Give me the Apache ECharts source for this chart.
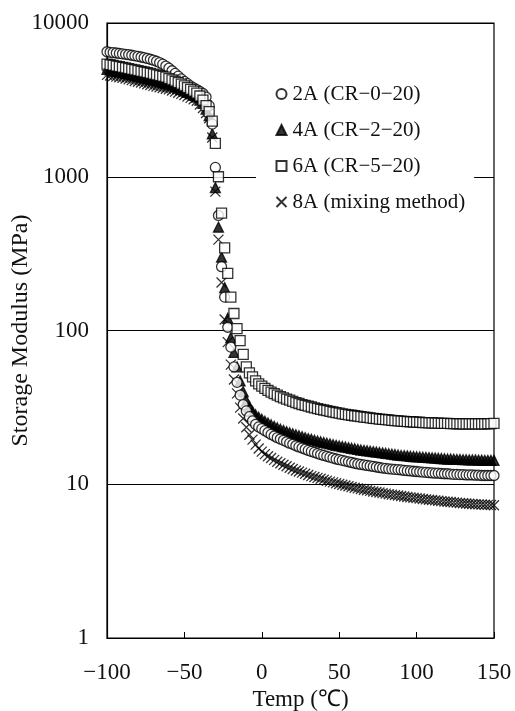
<!DOCTYPE html>
<html>
<head>
<meta charset="utf-8">
<script src="https://cdn.jsdelivr.net/npm/echarts@6/dist/echarts.min.js"></script>
<style>
  html, body { margin: 0; padding: 0; background: #fff; }
  #chart { width: 515px; height: 711px; }
</style>
</head>
<body>
<div id="chart"></div>
<script>
// region data

// temperature (°C), shared by all four samples
const temps = [
  -100, -98, -96, -94, -92, -90, -88, -86, -84, -82,
  -80, -78, -76, -74, -72, -70, -68, -66, -64, -62,
  -60, -58, -56, -54, -52, -50, -48, -46, -44, -42,
  -40, -38, -36, -34, -32, -30, -28, -26, -24, -22,
  -20, -18, -16, -14, -12, -10, -8, -6, -4, -2,
  0, 2, 4, 6, 8, 10, 12, 14, 16, 18,
  20, 22, 24, 26, 28, 30, 32, 34, 36, 38,
  40, 42, 44, 46, 48, 50, 52, 54, 56, 58,
  60, 62, 64, 66, 68, 70, 72, 74, 76, 78,
  80, 82, 84, 86, 88, 90, 92, 94, 96, 98,
  100, 102, 104, 106, 108, 110, 112, 114, 116, 118,
  120, 122, 124, 126, 128, 130, 132, 134, 136, 138,
  140, 142, 144, 146, 148, 150
]

// storage modulus (MPa)
const cr0 = [
  6500, 6450, 6420, 6380, 6340, 6300, 6260, 6220, 6170, 6120,
  6070, 6010, 5950, 5880, 5810, 5730, 5640, 5530, 5400, 5250,
  5080, 4890, 4700, 4510, 4330, 4170, 4030, 3900, 3790, 3690,
  3590, 3480, 3300, 2900, 2200, 1150, 560, 260, 165, 105,
  78, 58, 46, 38, 33, 30, 27.5, 25.8, 24.5, 23.6,
  23, 22.3, 21.7, 21.1, 20.6, 20.1, 19.7, 19.3, 18.9, 18.5,
  18.2, 17.8, 17.5, 17.2, 16.9, 16.6, 16.35, 16.1, 15.85, 15.6,
  15.4, 15.2, 15.0, 14.8, 14.6, 14.45, 14.3, 14.15, 14.0, 13.85,
  13.7, 13.55, 13.45, 13.35, 13.25, 13.15, 13.05, 12.95, 12.85, 12.75,
  12.7, 12.6, 12.55, 12.5, 12.45, 12.4, 12.3, 12.25, 12.2, 12.15,
  12.1, 12.05, 12.0, 11.95, 11.9, 11.85, 11.8, 11.8, 11.75, 11.7,
  11.7, 11.65, 11.6, 11.6, 11.55, 11.55, 11.5, 11.5, 11.5, 11.45,
  11.45, 11.4, 11.4, 11.4, 11.4, 11.4
]

const cr2 = [
  5000, 4950, 4900, 4850, 4800, 4750, 4700, 4650, 4600, 4550,
  4500, 4450, 4400, 4350, 4300, 4250, 4200, 4150, 4100, 4050,
  4000, 3930, 3860, 3780, 3700, 3620, 3540, 3460, 3380, 3300,
  3150, 3000, 2750, 2500, 1900, 850, 470, 300, 190, 120,
  90, 72, 58, 47, 40, 35, 32, 29.8, 28.3, 27.3,
  26.5, 25.7, 25.0, 24.4, 23.8, 23.3, 22.8, 22.4, 22.0, 21.6,
  21.3, 21.0, 20.7, 20.4, 20.1, 19.8, 19.6, 19.35, 19.1, 18.9,
  18.7, 18.5, 18.3, 18.1, 17.9, 17.75, 17.6, 17.45, 17.3, 17.15,
  17.0, 16.85, 16.7, 16.6, 16.5, 16.4, 16.3, 16.2, 16.1, 16.0,
  15.9, 15.8, 15.7, 15.6, 15.5, 15.4, 15.35, 15.3, 15.2, 15.15,
  15.1, 15.05, 15.0, 14.95, 14.9, 14.85, 14.8, 14.75, 14.7, 14.65,
  14.6, 14.6, 14.55, 14.5, 14.5, 14.45, 14.45, 14.4, 14.4, 14.4,
  14.35, 14.35, 14.3, 14.3, 14.3, 14.3
]

const cr5 = [
  5400, 5350, 5300, 5250, 5200, 5150, 5100, 5050, 5000, 4950,
  4900, 4850, 4800, 4750, 4700, 4650, 4600, 4550, 4500, 4450,
  4350, 4270, 4180, 4090, 4000, 3900, 3800, 3700, 3600, 3500,
  3350, 3150, 2900, 2650, 2300, 1650, 1000, 580, 345, 235,
  165, 129, 103, 86, 70, 58, 53, 50, 47, 45,
  43.5, 42, 40.8, 39.7, 38.8, 38, 37.2, 36.5, 35.8, 35.2,
  34.6, 34, 33.5, 33, 32.6, 32.2, 31.8, 31.4, 31.0, 30.7,
  30.4, 30.1, 29.8, 29.5, 29.2, 29.0, 28.7, 28.5, 28.3, 28.1,
  27.9, 27.7, 27.5, 27.3, 27.2, 27.0, 26.85, 26.7, 26.55, 26.4,
  26.3, 26.2, 26.05, 25.95, 25.85, 25.75, 25.65, 25.55, 25.5, 25.4,
  25.35, 25.3, 25.2, 25.15, 25.1, 25.05, 25.0, 24.95, 24.9, 24.9,
  24.85, 24.8, 24.8, 24.75, 24.75, 24.7, 24.7, 24.7, 24.7, 24.7,
  24.7, 24.7, 24.7, 24.75, 24.8, 24.9
]

const mixing = [
  4600, 4560, 4520, 4480, 4440, 4400, 4350, 4300, 4250, 4200,
  4150, 4100, 4050, 4000, 3950, 3900, 3860, 3820, 3780, 3740,
  3700, 3640, 3580, 3520, 3460, 3400, 3330, 3260, 3190, 3120,
  2950, 2800, 2600, 2400, 1800, 800, 390, 205, 118, 84,
  60, 48, 39, 31.5, 26.8, 23.5, 21, 19.5, 18.1, 17.1,
  16.3, 15.7, 15.2, 14.8, 14.4, 14.0, 13.7, 13.4, 13.1, 12.8,
  12.55, 12.3, 12.1, 11.9, 11.7, 11.5, 11.3, 11.15, 11.0, 10.85,
  10.7, 10.55, 10.4, 10.28, 10.15, 10.03, 9.92, 9.81, 9.7, 9.6,
  9.5, 9.4, 9.31, 9.22, 9.14, 9.06, 8.98, 8.9, 8.83, 8.76,
  8.69, 8.62, 8.56, 8.5, 8.44, 8.38, 8.32, 8.27, 8.22, 8.17,
  8.12, 8.07, 8.02, 7.97, 7.93, 7.89, 7.85, 7.81, 7.77, 7.73,
  7.7, 7.66, 7.62, 7.59, 7.56, 7.53, 7.5, 7.47, 7.44, 7.42,
  7.4, 7.38, 7.36, 7.34, 7.32, 7.3
]

const seriesNames = ['2A (CR\u22120\u221220)', '4A (CR\u22122\u221220)', '6A (CR\u22125\u221220)', '8A (mixing method)']

// endregion

const SERIF = '"Liberation Serif", "Times New Roman", serif'
const CROSS = 'path://M0,0L10,10M10,0L0,10'

function pairs(values) {
  return temps.map((t, i) => [t, values[i]])
}

function markerSeries(name, values, symbol, fill) {
  return {
    name: name,
    type: 'scatter',
    symbol: symbol,
    symbolSize: 10,
    itemStyle: {
      color: fill,
      borderColor: '#000',
      borderWidth: 1.3
    },
    data: pairs(values)
  }
}

const chart = echarts.init(document.getElementById('chart'))

const option = {
  animation: false,
  backgroundColor: '#fff',
  grid: {
    left: 107,
    right: 21,
    top: 23,
    bottom: 73,
    containLabel: false,
    outerBoundsMode: 'none',
    show: true,
    borderColor: '#000',
    borderWidth: 1.2
  },
  legend: {
    data: seriesNames,
    orient: 'vertical',
    left: 256,
    top: 73,
    padding: [10, 9, 5, 18],
    backgroundColor: '#fff',
    itemWidth: 10,
    itemHeight: 10,
    itemGap: 14,
    textStyle: {
      fontFamily: SERIF,
      fontSize: 21,
      lineHeight: 22,
      color: '#111',
      padding: [0, 0, 0, 1]
    }
  },
  xAxis: {
    type: 'value',
    min: -100,
    max: 150,
    interval: 50,
    name: 'Temp (\u2103)',
    nameLocation: 'middle',
    nameGap: 50,
    nameMoveOverlap: false,
    nameTextStyle: {
      fontFamily: SERIF,
      fontSize: 23,
      color: '#111'
    },
    axisLine: {onZero: false, lineStyle: {color: '#000', width: 1.2}},
    axisTick: {show: true, inside: true, length: 6, lineStyle: {color: '#000'}},
    splitLine: {show: false},
    axisLabel: {
      margin: 23,
      fontFamily: SERIF,
      fontSize: 23,
      color: '#111',
      formatter: v => String(v).replace('-', '\u2212')
    }
  },
  yAxis: {
    type: 'log',
    logBase: 10,
    min: 1,
    max: 10000,
    name: 'Storage Modulus (MPa)',
    nameLocation: 'middle',
    nameGap: 74,
    nameMoveOverlap: false,
    nameTextStyle: {
      fontFamily: SERIF,
      fontSize: 24,
      color: '#111'
    },
    axisLine: {onZero: false, lineStyle: {color: '#000', width: 1.2}},
    axisTick: {show: false},
    splitLine: {show: true, lineStyle: {color: '#000', width: 1.2}},
    axisLabel: {
      margin: 18,
      fontFamily: SERIF,
      fontSize: 23,
      color: '#111',
      formatter: v => String(Math.round(v))
    }
  },
  series: [
    markerSeries(seriesNames[3], mixing, CROSS, 'none'),
    markerSeries(seriesNames[1], cr2, 'triangle', '#000'),
    markerSeries(seriesNames[0], cr0, 'circle', '#fff'),
    markerSeries(seriesNames[2], cr5, 'rect', '#fff')
  ]
}

chart.setOption(option)
</script>
</body>
</html>
